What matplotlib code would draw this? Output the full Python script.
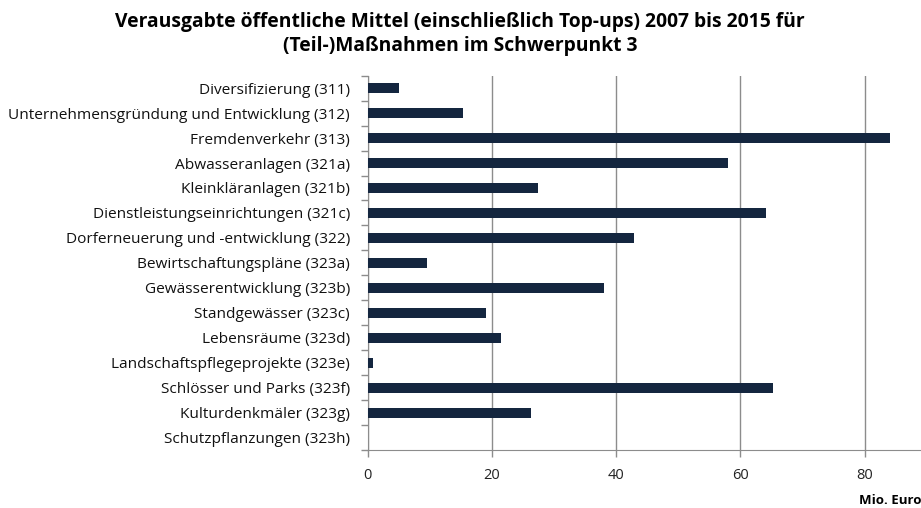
import matplotlib
matplotlib.use("Agg")
import matplotlib.pyplot as plt
import numpy as np

categories = [
    "Diversifizierung (311)",
    "Unternehmensgründung und Entwicklung (312)",
    "Fremdenverkehr (313)",
    "Abwasseranlagen (321a)",
    "Kleinkläranlagen (321b)",
    "Dienstleistungseinrichtungen (321c)",
    "Dorferneuerung und -entwicklung (322)",
    "Bewirtschaftungspläne (323a)",
    "Gewässerentwicklung (323b)",
    "Standgewässer (323c)",
    "Lebensräume (323d)",
    "Landschaftspflegeprojekte (323e)",
    "Schlösser und Parks (323f)",
    "Kulturdenkmäler (323g)",
    "Schutzpflanzungen (323h)",
]
values = [5.0, 15.3, 84.1, 58.0, 27.4, 64.2, 42.8, 9.5, 38.0, 19.0, 21.4, 0.9, 65.3, 26.2, 0.0]
xticks = [0, 20, 40, 60, 80]

plt.rcParams['font.family'] = ['Open Sans', 'DejaVu Sans']

W, H = 921, 508
fig = plt.figure(figsize=(W / 100, H / 100), dpi=100)
# axes runs past the right edge of the figure (axis max 100 is cut off)
left, right, top, bottom = 367.9, 988.7, 75.7, 450.0
ax = fig.add_axes([left / W, 1 - bottom / H, (right - left) / W, (bottom - top) / H])

y = np.arange(len(categories))
ax.barh(y, values, height=0.4, color="#14263f", linewidth=0, zorder=3)

ax.set_ylim(len(categories) - 0.5, -0.5)
ax.set_xlim(0, 100)
ax.set_xticks(xticks)
ax.set_xticklabels([str(t) for t in xticks], fontsize=10.5, color="#222222")
ax.tick_params(axis="x", length=5, color="#8c8c8c", width=1, pad=8)

ax.set_yticks(y)
ax.set_yticklabels(categories, fontsize=11.1, color="#111111")
ax.set_yticks(np.arange(len(categories) + 1) - 0.5, minor=True)
ax.tick_params(axis="y", which="major", length=0, pad=13)
ax.tick_params(axis="y", which="minor", length=5, color="#8c8c8c", width=1)

ax.grid(True, axis="x", color="#8c8c8c", linewidth=1, zorder=0)
for s in ["top", "right"]:
    ax.spines[s].set_visible(False)
ax.spines["left"].set_color("#8c8c8c")
ax.spines["bottom"].set_color("#8c8c8c")

fig.text(460 / W, 1 - 34 / H,
         "Verausgabte öffentliche Mittel (einschließlich Top-ups) 2007 bis 2015 für\n(Teil-)Maßnahmen im Schwerpunkt 3",
         ha="center", va="center", fontsize=13.9, fontweight="bold", linespacing=1.25)
fig.text(921 / W, 1 - 500 / H, "Mio. Euro", ha="right", va="center", fontsize=9.5, fontweight="bold")

fig.savefig("out.png", dpi=100)
